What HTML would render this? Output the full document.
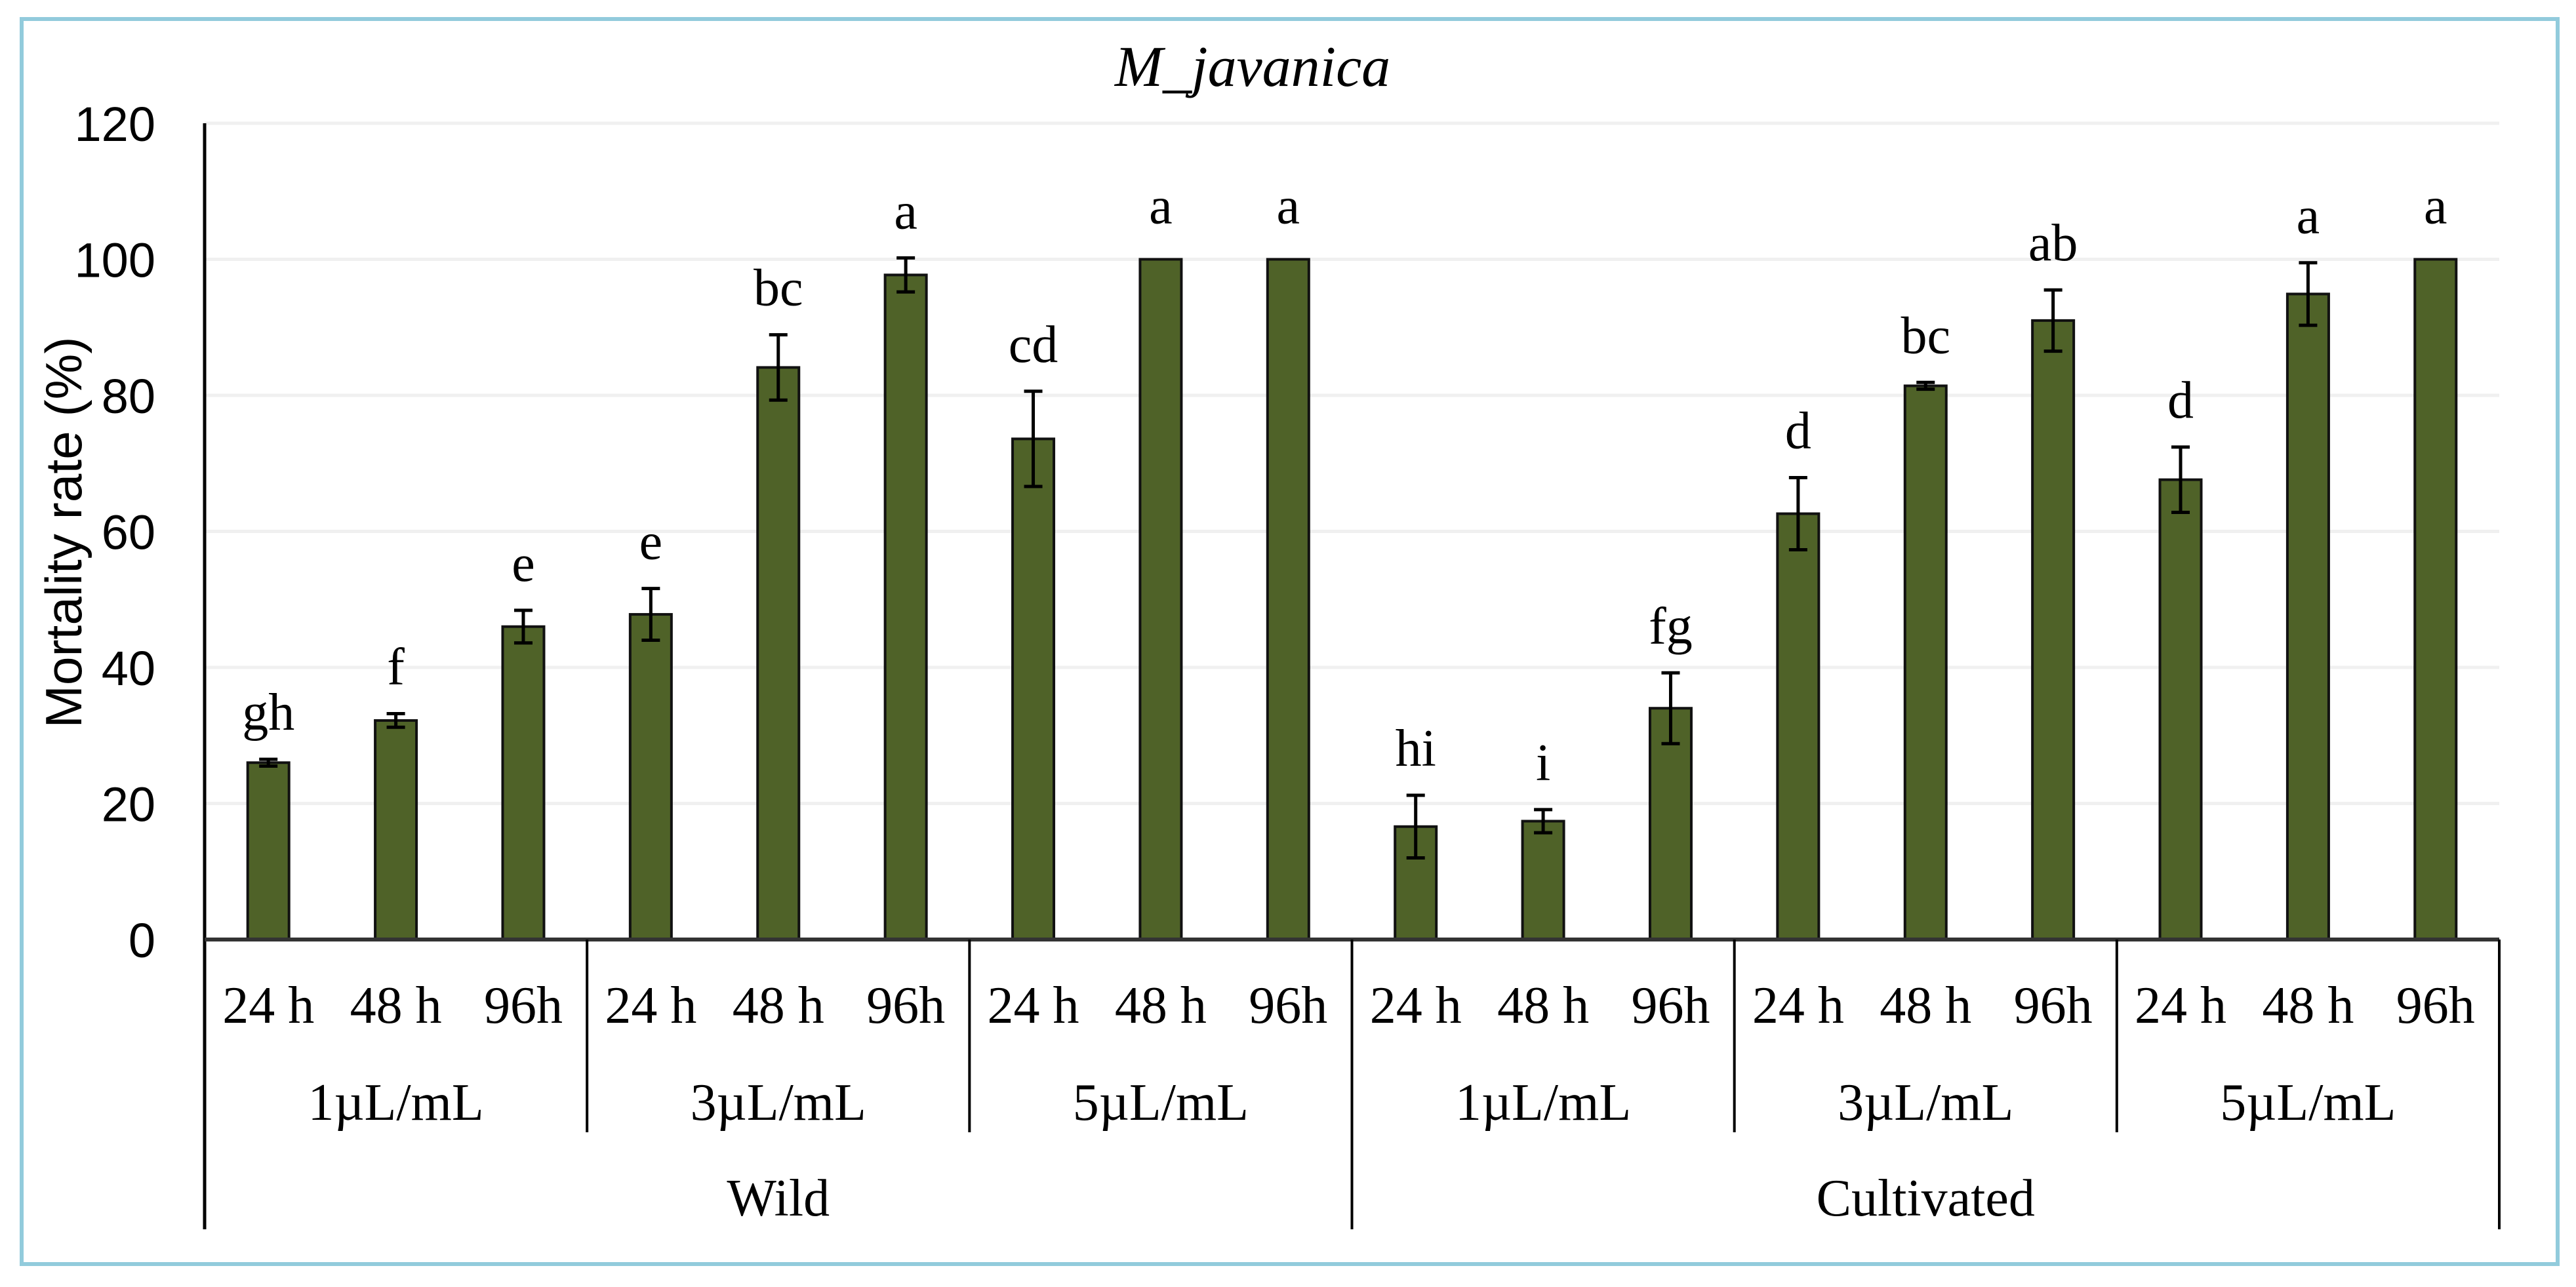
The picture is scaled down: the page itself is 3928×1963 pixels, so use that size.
<!DOCTYPE html>
<html><head><meta charset="utf-8"><style>
html,body{margin:0;padding:0;background:#fff;}
svg{display:block;}
</style></head><body>
<svg id="chart" width="3928" height="1963" viewBox="0 0 3928 1963" xmlns="http://www.w3.org/2000/svg">
<rect x="33" y="29" width="3867" height="1899" fill="#fff" stroke="#92cbdc" stroke-width="6"/>
<text x="1910" y="131" text-anchor="middle" font-family="Liberation Serif, serif" font-style="italic" font-size="88">M_javanica</text>
<text transform="translate(124,812) rotate(-90)" text-anchor="middle" font-family="Liberation Sans, sans-serif" font-size="78" textLength="597" lengthAdjust="spacingAndGlyphs">Mortality rate (%)</text>
<g id="grid"></g><g id="bars"></g><g id="axes"></g><g id="labels"></g>
</svg>
<script>
const categories = ["24 h","48 h","96h","24 h","48 h","96h","24 h","48 h","96h","24 h","48 h","96h","24 h","48 h","96h","24 h","48 h","96h"];
const concentrations = ["1µL/mL","3µL/mL","5µL/mL","1µL/mL","3µL/mL","5µL/mL"];
const sources = ["Wild","Cultivated"];
const values = [26.0,32.2,46.0,47.8,84.1,97.7,73.6,100,100,16.6,17.4,34.0,62.6,81.4,91.0,67.6,94.9,100];
const errors = [0.5,1.0,2.4,3.8,4.8,2.5,7.0,0,0,4.6,1.7,5.2,5.3,0.5,4.5,4.8,4.6,0];
const letters = ["gh","f","e","e","bc","a","cd","a","a","hi","i","fg","d","bc","ab","d","a","a"];
const yTicks = [0,20,40,60,80,100,120];

const NS="http://www.w3.org/2000/svg";
const X0=312, X1=3811, Y0=1433, Y120=188;
const catW=(X1-X0)/categories.length;
const barW=63;
function xCenter(i){return X0+catW*(i+0.5);}
function yScale(v){return Y0-(Y0-Y120)*v/120;}
function mk(tag,attrs,parent,text){const e=document.createElementNS(NS,tag);for(const k in attrs)e.setAttribute(k,attrs[k]);if(text!==undefined)e.textContent=text;parent.appendChild(e);return e;}
const grid=document.getElementById('grid'),bars=document.getElementById('bars'),axes=document.getElementById('axes'),labels=document.getElementById('labels');

yTicks.forEach(t=>{
  if(t>0){const g=mk('line',{x1:X0,x2:X1,y1:yScale(t),y2:yScale(t),stroke:'#f0f0f0','stroke-width':5},grid);
  
  }
  const tl=mk('text',{x:237,y:yScale(t)+27,'text-anchor':'end','font-family':'Liberation Sans, sans-serif','font-size':74},labels,String(t));
  
  
});

values.forEach((v,i)=>{
  const cx=xCenter(i), yt=yScale(v);
  const b=mk('rect',{x:cx-barW/2,y:yt,width:barW,height:Y0-yt,fill:'#4f6228',stroke:'#111','stroke-width':4},bars);
  
  
  const e=errors[i];
  let top=yt;
  if(e>0){
    const yh=yScale(v+e), yl=yScale(v-e); top=yh;
    const eb=mk('path',{d:`M${cx},${yh}V${yl}M${cx-14},${yh}H${cx+14}M${cx-14},${yl}H${cx+14}`,stroke:'#000','stroke-width':5,fill:'none'},bars);
    
    
  }
  const lt=mk('text',{x:cx,y:top-(e>0?45:55),'text-anchor':'middle','font-family':'Liberation Serif, serif','font-size':80},labels,letters[i]);
  
  
  const ct=mk('text',{x:cx,y:1560,'text-anchor':'middle','font-family':'Liberation Serif, serif','font-size':80},labels,categories[i]);
  
  
});

concentrations.forEach((c,k)=>{
  const cx=X0+catW*(3*k+1.5);
  const t=mk('text',{x:cx,y:1708,'text-anchor':'middle','font-family':'Liberation Serif, serif','font-size':80},labels,c);
  
  
});
sources.forEach((s,k)=>{
  const cx=X0+catW*(9*k+4.5);
  const t=mk('text',{x:cx,y:1854,'text-anchor':'middle','font-family':'Liberation Serif, serif','font-size':80},labels,s);
  
  
});

const ya=mk('line',{x1:X0,x2:X0,y1:Y120,y2:1875,stroke:'#000','stroke-width':5},axes);


const xa=mk('line',{x1:X0,x2:X1,y1:Y0,y2:Y0,stroke:'#333','stroke-width':6},axes);


for(let k=1;k<=6;k++){
  const x=X0+catW*3*k;
  const y2=(k===3||k===6)?1875:1727;
  const d=mk('line',{x1:x,x2:x,y1:Y0,y2:y2,stroke:'#000','stroke-width':4},axes);
  
  
}
</script>
</body></html>
